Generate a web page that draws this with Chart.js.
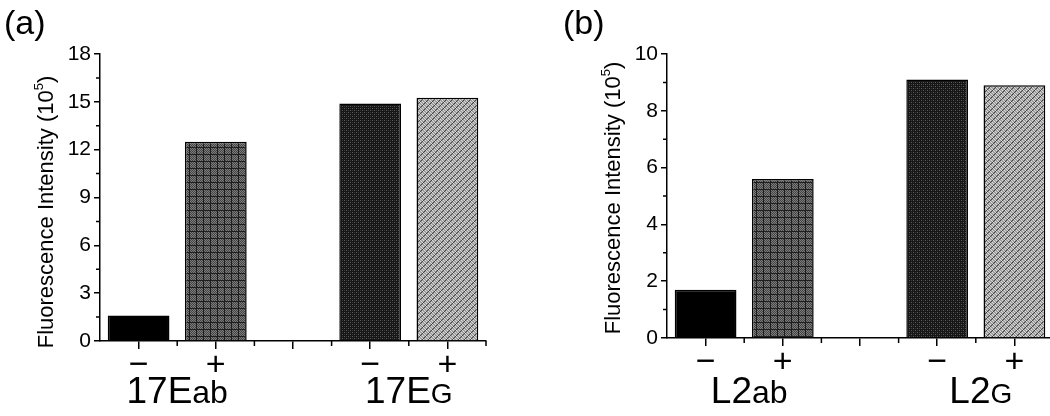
<!DOCTYPE html>
<html>
<head>
<meta charset="utf-8">
<script src="https://cdn.jsdelivr.net/npm/chart.js@4.4.1/dist/chart.umd.min.js"></script>
<style>
  html, body { margin: 0; padding: 0; background: #fff; overflow: hidden; }
  #wrap { position: relative; width: 1050px; height: 416px; }
  canvas { position: absolute; top: 0; }
  #chartA { left: 0; }
  #chartB { left: 525px; }
</style>
</head>
<body>
<div id="wrap">
  <canvas id="chartA" width="525" height="416"></canvas>
  <canvas id="chartB" width="530" height="416"></canvas>
</div>
<script>
// data (units of 10^5)
const categories = ['\u2212', '+', '', '\u2212', '+'];
const valuesA = [1.6, 12.5, null, 14.9, 15.25];
const valuesB = [1.7, 5.6, null, 9.1, 8.9];
const groupMainA = ['17E', '17E'];
const groupSubA = ['ab', 'G'];
const groupMainB = ['L2', 'L2'];
const groupSubB = ['ab', 'G'];
const yMaxA = 18, yStepA = 3;
const yMaxB = 10, yStepB = 2;

const FONT = "Arial, 'Liberation Sans', Helvetica, sans-serif";

function makePattern(ctx, size, paint) {
  const c = document.createElement('canvas');
  c.width = size; c.height = size;
  const g = c.getContext('2d');
  for (let i = 0; i < size; i++) {
    for (let j = 0; j < size; j++) {
      g.fillStyle = paint(i, j);
      g.fillRect(i, j, 1, 1);
    }
  }
  return ctx.createPattern(c, 'repeat');
}

function barFills(ctx) {
  // grid hatch
  const grid = makePattern(ctx, 7, (i, j) => {
    if (i == 0 || j == 0) return '#1e1e1e';
    return (i + j) % 2 == 0 ? '#7c7c7c' : '#444444';
  });
  // dense dark dots
  const dark = makePattern(ctx, 4, (i, j) => {
    if (i % 2 == 0 && j % 2 == 0) return (i + j) % 4 == 0 ? '#5c5c5c' : '#383838';
    return '#161616';
  });
  // light with diagonal lines
  const light = makePattern(ctx, 6, (i, j) => {
    if ((i + j) % 6 == 5) return '#444444';
    if ((i - j + 6) % 3 == 0) return '#dadada';
    return '#9e9e9e';
  });
  return ['#000000', grid, '#ffffff', dark, light];
}

const decor = {
  id: 'decor',
  afterDraw(chart, args, o) {
    const ctx = chart.ctx;
    const xs = chart.scales.x, ys = chart.scales.y;
    const a = chart.chartArea;
    ctx.save();
    ctx.strokeStyle = '#000';
    ctx.lineWidth = 1.5;
    ctx.beginPath();
    // minor y ticks halfway between the labelled ones
    const yt = ys.ticks.map(t => t.value);
    for (let k = 0; k < yt.length - 1; k++) {
      const py = ys.getPixelForValue((yt[k] + yt[k + 1]) / 2);
      ctx.moveTo(a.left, py); ctx.lineTo(a.left - 4, py);
    }
    // minor x ticks on the category boundaries
    const step = xs.getPixelForValue(1) - xs.getPixelForValue(0);
    categories.forEach((c, i) => {
      const px = xs.getPixelForValue(i) + step / 2;
      ctx.moveTo(px, a.bottom); ctx.lineTo(px, a.bottom + 5);
    });
    ctx.stroke();

    ctx.fillStyle = '#000';
    ctx.textBaseline = 'alphabetic';
    // group names under the -/+ pairs
    o.groupMain.forEach((m, g) => {
      const sub = o.groupSub[g];
      const cx = (xs.getPixelForValue(o.spans[g][0]) + xs.getPixelForValue(o.spans[g][1])) / 2 + o.groupShift;
      const subSize = sub === sub.toUpperCase() ? 28 : 32;
      ctx.font = '37px ' + FONT;
      const wm = ctx.measureText(m).width;
      ctx.font = subSize + 'px ' + FONT;
      const ws = ctx.measureText(sub).width;
      let sx = cx - (wm + ws) / 2;
      ctx.textAlign = 'left';
      ctx.font = '37px ' + FONT;
      ctx.fillText(m, sx, 403);
      ctx.font = subSize + 'px ' + FONT;
      ctx.fillText(sub, sx + wm, 403);
    });

    // panel letter
    ctx.font = '34px ' + FONT;
    ctx.textAlign = 'left';
    ctx.fillText(o.panel, o.panelX, 34);

    // rotated axis title with superscript
    ctx.translate(o.titleX, o.titleY);
    ctx.rotate(-Math.PI / 2);
    const t1 = 'Fluorescence Intensity (10', t2 = '5', t3 = ')';
    ctx.font = '22px ' + FONT;
    const w1 = ctx.measureText(t1).width, w3 = ctx.measureText(t3).width;
    ctx.font = '13px ' + FONT;
    const w2 = ctx.measureText(t2).width;
    let sx = -(w1 + w2 + w3) / 2;
    ctx.font = '22px ' + FONT;
    ctx.fillText(t1, sx, 0);
    ctx.font = '13px ' + FONT;
    ctx.fillText(t2, sx + w1, -10);
    ctx.font = '22px ' + FONT;
    ctx.fillText(t3, sx + w1 + w2, 0);
    ctx.restore();
  }
};

function makeChart(id, values, yMax, yStep, yWidth, xHeight, padRight, extra) {
  const el = document.getElementById(id);
  const ctx = el.getContext('2d');
  return new Chart(ctx, {
    type: 'bar',
    data: {
      labels: categories,
      datasets: [{
        data: values,
        backgroundColor: barFills(ctx),
        borderColor: '#000',
        borderWidth: 1.5,
        borderSkipped: 'bottom',
        categoryPercentage: 1,
        barPercentage: 0.8
      }]
    },
    options: {
      responsive: false,
      animation: false,
      devicePixelRatio: 1,
      layout: { padding: { top: 54, right: padRight, left: 0, bottom: 0 } },
      plugins: {
        legend: { display: false },
        tooltip: { enabled: false },
        decor: extra
      },
      scales: {
        x: {
          offset: true,
          grid: { offset: false, drawOnChartArea: false, tickLength: 8, lineWidth: 1.5, color: '#000' },
          border: { display: true, width: 1.5, color: '#000' },
          ticks: { color: '#000', font: { family: FONT, size: 34, lineHeight: 1 }, padding: 0, maxRotation: 0, autoSkip: false },
          afterFit: s => { s.height = xHeight; }
        },
        y: {
          min: 0,
          max: yMax,
          grid: { drawOnChartArea: false, tickLength: 6, lineWidth: 1.5, color: '#000' },
          border: { display: true, width: 1.5, color: '#000' },
          ticks: { stepSize: yStep, color: '#000', font: { family: FONT, size: 21 }, padding: 3 },
          afterFit: s => { s.width = yWidth; }
        }
      }
    },
    plugins: [decor]
  });
}

makeChart('chartA', valuesA, yMaxA, yStepA, 100, 75, 39, {
  groupMain: groupMainA, groupSub: groupSubA, spans: [[0, 1], [3, 4]], groupShift: 0,
  panel: '(a)', panelX: 4, titleX: 53, titleY: 212
});
makeChart('chartB', valuesB, yMaxB, yStepB, 142, 78, 2, {
  groupMain: groupMainB, groupSub: groupSubB, spans: [[0, 1], [3, 4]], groupShift: 5,
  panel: '(b)', panelX: 38, titleX: 95, titleY: 198
});
</script>
</body>
</html>
